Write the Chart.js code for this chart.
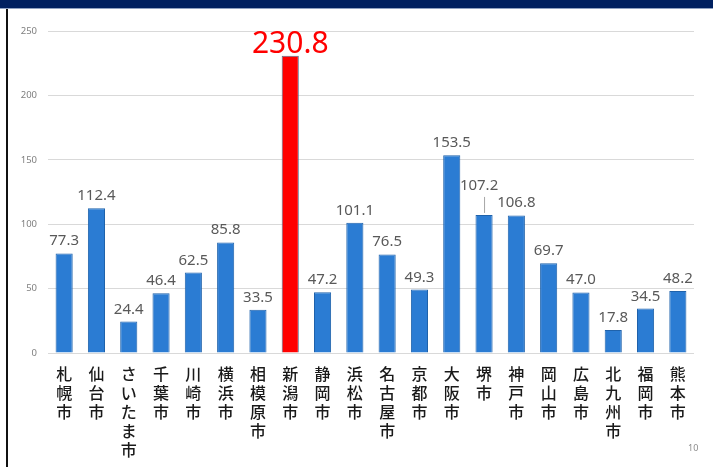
<!DOCTYPE html>
<html lang="ja">
<head>
<meta charset="utf-8">
<script src="https://cdn.jsdelivr.net/npm/chart.js@4"></script>
<style>
  html, body { margin: 0; padding: 0; background: #fff; }
  #wrap { position: relative; width: 713px; height: 467px; overflow: hidden; }
  #topbar { position: absolute; left: 0; top: 0; width: 713px; height: 8px; background: #002060; border-bottom: 1px solid #8fa1c2; }
  #leftline { position: absolute; left: 6px; top: 9px; width: 2px; height: 458px; background: #111; }
  #page { position: absolute; left: 688px; top: 441px; font: 9px "Noto Sans", sans-serif; color: #8c8c8c; }
</style>
</head>
<body>
<div id="wrap">
  <canvas id="chart" width="713" height="467"></canvas>
  <div id="topbar"></div>
  <div id="leftline"></div>
  <div id="page">10</div>
</div>
<script>
const cities = ['札幌市', '仙台市', 'さいたま市', '千葉市', '川崎市', '横浜市', '相模原市',
  '新潟市', '静岡市', '浜松市', '名古屋市', '京都市', '大阪市', '堺市', '神戸市',
  '岡山市', '広島市', '北九州市', '福岡市', '熊本市'];
const values = [77.3, 112.4, 24.4, 46.4, 62.5, 85.8, 33.5, 230.8, 47.2, 101.1,
  76.5, 49.3, 153.5, 107.2, 106.8, 69.7, 47.0, 17.8, 34.5, 48.2];
const yTicks = [0, 50, 100, 150, 200, 250];

const HIGHLIGHT = '新潟市';
const LIFTED = '堺市';

const barColors = cities.map(c => c === HIGHLIGHT ? '#ff0000' : '#2b7cd3');
const borderColors = cities.map(c => c === HIGHLIGHT ? '#5a6e8a' : '#1f62ab');

// 値ラベル（堺市だけ引き出し線付きで上にずらす）
const valueLabels = {
  id: 'valueLabels',
  afterDatasetsDraw(chart) {
    const ctx = chart.ctx;
    const meta = chart.getDatasetMeta(0);
    ctx.save();
    ctx.textAlign = 'center';
    ctx.textBaseline = 'alphabetic';
    meta.data.forEach((bar, i) => {
      const txt = values[i].toFixed(1);
      if (cities[i] === HIGHLIGHT) {
        ctx.font = '30px "Noto Sans", sans-serif';
        ctx.fillStyle = '#ff0000';
        ctx.fillText(txt, bar.x, bar.y - 3);
      } else if (cities[i] === LIFTED) {
        ctx.strokeStyle = '#a6a6a6';
        ctx.lineWidth = 1;
        ctx.beginPath();
        ctx.moveTo(bar.x + 0.5, bar.y - 2);
        ctx.lineTo(bar.x + 0.5, bar.y - 18);
        ctx.stroke();
        ctx.font = '15px "Noto Sans", sans-serif';
        ctx.fillStyle = '#595959';
        ctx.fillText(txt, bar.x - 5, bar.y - 25);
      } else {
        ctx.font = '15px "Noto Sans", sans-serif';
        ctx.fillStyle = '#595959';
        ctx.fillText(txt, bar.x, bar.y - 8);
      }
    });
    ctx.restore();
  }
};

new Chart(document.getElementById('chart'), {
  type: 'bar',
  data: {
    labels: cities.map(c => c.split('')),
    datasets: [{
      data: values,
      backgroundColor: barColors,
      borderColor: borderColors,
      borderWidth: 1,
      barPercentage: 0.53,
      categoryPercentage: 1
    }]
  },
  options: {
    responsive: false,
    animation: false,
    layout: { padding: { left: 8, right: 19, top: 31, bottom: 0 } },
    plugins: { legend: { display: false }, tooltip: { enabled: false } },
    scales: {
      x: {
        grid: { display: false },
        border: { display: false },
        ticks: {
          autoSkip: false,
          maxRotation: 0,
          padding: 3,
          color: '#1a1a1a',
          font: { family: '"Noto Sans CJK JP", sans-serif', size: 16, weight: 500, lineHeight: 1.2 }
        },
        afterFit: s => { s.height = 114; }
      },
      y: {
        min: 0,
        max: 250,
        afterBuildTicks: s => { s.ticks = yTicks.map(v => ({ value: v })); },
        grid: { color: '#d9d9d9', lineWidth: 1, drawTicks: false },
        border: { display: false },
        ticks: {
          padding: 11,
          color: '#7f7f7f',
          font: { family: '"Noto Sans", sans-serif', size: 9.5 }
        },
        afterFit: s => { s.width = 40; }
      }
    }
  },
  plugins: [valueLabels]
});
</script>
</body>
</html>
